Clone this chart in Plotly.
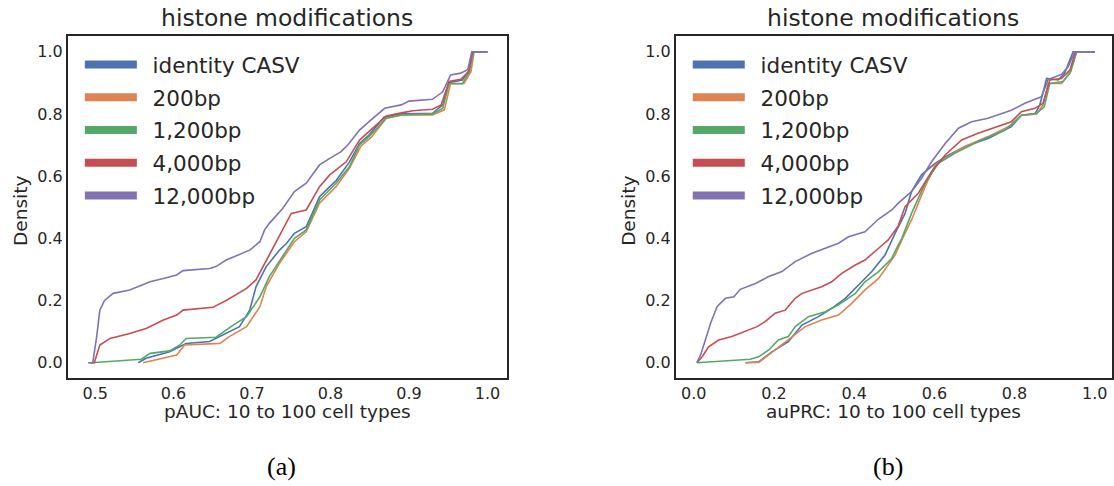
import plotly.graph_objects as go

W, H = 1114, 486

names = ["identity CASV", "200bp", "1,200bp", "4,000bp", "12,000bp"]
colors = ["#4C72B0", "#DD8452", "#55A868", "#C44E52", "#8172B3"]

# ---- panel (a): pAUC ----
a_blue_x = [0.555, 0.565, 0.595, 0.608, 0.616, 0.646, 0.659, 0.684, 0.697, 0.705, 0.718, 0.735, 0.744, 0.754, 0.769, 0.778, 0.786, 0.799, 0.807, 0.824, 0.837, 0.849, 0.868, 0.892, 0.930, 0.943, 0.951, 0.968, 0.977, 0.981, 1.0]
a_blue_y = [0.0, 0.014, 0.035, 0.051, 0.062, 0.068, 0.084, 0.116, 0.169, 0.244, 0.309, 0.362, 0.384, 0.416, 0.437, 0.49, 0.534, 0.566, 0.585, 0.645, 0.705, 0.732, 0.789, 0.800, 0.802, 0.829, 0.900, 0.909, 0.941, 1.0, 1.0]

a_orange_x = [0.561, 0.587, 0.604, 0.614, 0.659, 0.671, 0.693, 0.710, 0.718, 0.735, 0.754, 0.769, 0.786, 0.807, 0.824, 0.839, 0.852, 0.871, 0.892, 0.930, 0.945, 0.953, 0.970, 0.979, 0.983, 1.0]
a_orange_y = [0.0, 0.014, 0.025, 0.057, 0.062, 0.084, 0.116, 0.180, 0.244, 0.320, 0.389, 0.421, 0.513, 0.566, 0.625, 0.697, 0.725, 0.786, 0.797, 0.797, 0.813, 0.898, 0.898, 0.936, 1.0, 1.0]

a_green_x = [0.495, 0.559, 0.570, 0.595, 0.608, 0.616, 0.654, 0.676, 0.693, 0.710, 0.722, 0.739, 0.754, 0.769, 0.786, 0.807, 0.824, 0.837, 0.849, 0.871, 0.892, 0.930, 0.943, 0.951, 0.968, 0.977, 0.982, 1.0]
a_green_y = [0.0, 0.011, 0.030, 0.038, 0.057, 0.078, 0.082, 0.121, 0.148, 0.212, 0.277, 0.341, 0.400, 0.427, 0.523, 0.577, 0.630, 0.700, 0.727, 0.786, 0.797, 0.800, 0.818, 0.897, 0.897, 0.935, 1.0, 1.0]

a_red_x = [0.493, 0.499, 0.506, 0.519, 0.544, 0.565, 0.587, 0.604, 0.612, 0.650, 0.667, 0.693, 0.705, 0.714, 0.726, 0.739, 0.750, 0.769, 0.786, 0.799, 0.820, 0.837, 0.849, 0.871, 0.892, 0.905, 0.930, 0.941, 0.951, 0.966, 0.976, 0.981, 1.0]
a_red_y = [0.0, 0.0, 0.057, 0.078, 0.094, 0.110, 0.137, 0.153, 0.169, 0.178, 0.200, 0.239, 0.266, 0.309, 0.362, 0.427, 0.480, 0.491, 0.566, 0.604, 0.646, 0.716, 0.743, 0.793, 0.804, 0.810, 0.815, 0.829, 0.904, 0.911, 0.936, 1.0, 1.0]

a_purple_x = [0.491, 0.497, 0.502, 0.506, 0.512, 0.523, 0.544, 0.570, 0.587, 0.604, 0.612, 0.646, 0.654, 0.667, 0.697, 0.710, 0.716, 0.722, 0.739, 0.754, 0.769, 0.786, 0.799, 0.813, 0.822, 0.837, 0.849, 0.869, 0.890, 0.900, 0.930, 0.943, 0.953, 0.966, 0.975, 0.980, 1.0]
a_purple_y = [0.0, 0.0, 0.084, 0.169, 0.200, 0.223, 0.234, 0.260, 0.271, 0.282, 0.296, 0.303, 0.309, 0.330, 0.362, 0.389, 0.427, 0.448, 0.496, 0.550, 0.577, 0.636, 0.657, 0.678, 0.700, 0.748, 0.775, 0.818, 0.829, 0.841, 0.847, 0.871, 0.925, 0.931, 0.943, 1.0, 1.0]

# ---- panel (b): auPRC ----
b_blue_x = [0.129, 0.162, 0.195, 0.236, 0.270, 0.311, 0.344, 0.378, 0.411, 0.444, 0.477, 0.502, 0.527, 0.543, 0.568, 0.602, 0.627, 0.676, 0.734, 0.792, 0.817, 0.851, 0.863, 0.880, 0.909, 0.925, 0.946, 1.0]
b_blue_y = [0.0, 0.003, 0.035, 0.068, 0.121, 0.148, 0.175, 0.207, 0.250, 0.293, 0.346, 0.416, 0.480, 0.550, 0.604, 0.641, 0.662, 0.695, 0.721, 0.759, 0.796, 0.800, 0.829, 0.914, 0.909, 0.931, 1.0, 1.0]

b_orange_x = [0.129, 0.162, 0.203, 0.245, 0.278, 0.319, 0.361, 0.394, 0.427, 0.461, 0.502, 0.519, 0.543, 0.577, 0.602, 0.627, 0.676, 0.734, 0.792, 0.817, 0.855, 0.871, 0.884, 0.917, 0.938, 0.954, 1.0]
b_orange_y = [0.0, 0.001, 0.041, 0.084, 0.116, 0.137, 0.153, 0.191, 0.234, 0.271, 0.346, 0.395, 0.459, 0.566, 0.636, 0.657, 0.695, 0.727, 0.764, 0.796, 0.800, 0.829, 0.898, 0.898, 0.931, 1.0, 1.0]

b_green_x = [0.008, 0.141, 0.162, 0.187, 0.211, 0.236, 0.253, 0.286, 0.328, 0.361, 0.403, 0.427, 0.461, 0.494, 0.510, 0.519, 0.543, 0.577, 0.610, 0.651, 0.709, 0.776, 0.817, 0.855, 0.874, 0.888, 0.921, 0.940, 0.955, 1.0]
b_green_y = [0.0, 0.011, 0.019, 0.041, 0.073, 0.084, 0.116, 0.148, 0.164, 0.186, 0.223, 0.260, 0.293, 0.336, 0.379, 0.400, 0.480, 0.577, 0.641, 0.673, 0.711, 0.748, 0.796, 0.802, 0.823, 0.898, 0.904, 0.936, 1.0, 1.0]

b_red_x = [0.008, 0.021, 0.037, 0.062, 0.095, 0.129, 0.158, 0.178, 0.203, 0.228, 0.253, 0.270, 0.319, 0.344, 0.369, 0.403, 0.427, 0.461, 0.485, 0.510, 0.527, 0.560, 0.593, 0.627, 0.668, 0.709, 0.743, 0.792, 0.817, 0.851, 0.871, 0.888, 0.917, 0.938, 0.952, 1.0]
b_red_y = [0.0, 0.019, 0.051, 0.073, 0.084, 0.100, 0.116, 0.132, 0.159, 0.169, 0.207, 0.223, 0.244, 0.260, 0.287, 0.314, 0.330, 0.368, 0.395, 0.440, 0.502, 0.545, 0.614, 0.668, 0.716, 0.738, 0.754, 0.775, 0.807, 0.818, 0.834, 0.909, 0.914, 0.941, 1.0, 1.0]

b_purple_x = [0.008, 0.017, 0.029, 0.042, 0.058, 0.079, 0.100, 0.116, 0.154, 0.187, 0.220, 0.253, 0.295, 0.328, 0.361, 0.386, 0.427, 0.461, 0.494, 0.510, 0.543, 0.568, 0.593, 0.627, 0.660, 0.693, 0.734, 0.792, 0.826, 0.851, 0.867, 0.884, 0.917, 0.934, 0.950, 1.0]
b_purple_y = [0.0, 0.025, 0.073, 0.127, 0.180, 0.207, 0.212, 0.236, 0.255, 0.277, 0.293, 0.325, 0.352, 0.368, 0.384, 0.405, 0.421, 0.462, 0.491, 0.513, 0.550, 0.593, 0.646, 0.705, 0.754, 0.775, 0.786, 0.812, 0.834, 0.847, 0.855, 0.911, 0.927, 0.952, 1.0, 1.0]

a_x_ticks = [0.5, 0.6, 0.7, 0.8, 0.9, 1.0]
b_x_ticks = [0.0, 0.2, 0.4, 0.6, 0.8, 1.0]
y_ticks = [0.0, 0.2, 0.4, 0.6, 0.8, 1.0]

panel_a = [(a_blue_x, a_blue_y), (a_orange_x, a_orange_y), (a_green_x, a_green_y),
           (a_red_x, a_red_y), (a_purple_x, a_purple_y)]
panel_b = [(b_blue_x, b_blue_y), (b_orange_x, b_orange_y), (b_green_x, b_green_y),
           (b_red_x, b_red_y), (b_purple_x, b_purple_y)]

FONT = "DejaVu Sans"
TXT = "#262626"

fig = go.Figure()
for panel, (xa, ya, leg) in zip([panel_a, panel_b], [("x", "y", "legend"), ("x2", "y2", "legend2")]):
    for (xs, ys), nm, c in zip(panel, names, colors):
        fig.add_trace(go.Scatter(x=xs, y=ys, mode="lines", line=dict(color=c, width=1.6),
                                 xaxis=xa, yaxis=ya, showlegend=False, hoverinfo="skip"))
    for nm, c in zip(names, colors):
        fig.add_trace(go.Scatter(x=[None], y=[None], mode="lines", line=dict(color=c, width=8),
                                 name="\u2002" + nm, xaxis=xa, yaxis=ya, legend=leg,
                                 legendgroup=leg + nm, showlegend=True))

ydom = [1 - 378 / H, 1 - 36 / H]
axis_common = dict(showline=True, mirror=True, linecolor=TXT, linewidth=2, showgrid=False,
                   zeroline=False, ticks="", tickfont=dict(family=FONT, size=16, color=TXT))

fig.update_layout(
    width=W, height=H, margin=dict(l=0, r=0, t=0, b=0),
    paper_bgcolor="white", plot_bgcolor="white",
    font=dict(family=FONT, color=TXT),
    xaxis=dict(domain=[68 / W, 508 / W], range=[0.4653, 1.025], tickvals=a_x_ticks,
               ticktext=[f"{v:.1f}" for v in a_x_ticks], anchor="y", **axis_common),
    yaxis=dict(domain=ydom, range=[-0.0492, 1.0505], tickvals=y_ticks,
               ticktext=[f"{v:.1f}" for v in y_ticks], anchor="x", **axis_common),
    xaxis2=dict(domain=[677 / W, 1.0], range=[-0.0448, 1.043], tickvals=b_x_ticks,
                ticktext=[f"{v:.1f}" for v in b_x_ticks], anchor="y2", **axis_common),
    yaxis2=dict(domain=ydom, range=[-0.0492, 1.0505], tickvals=y_ticks,
                ticktext=[f"{v:.1f}" for v in y_ticks], anchor="x2", **axis_common),
    legend=dict(x=80 / W, y=1 - 44 / H, xanchor="left", yanchor="top", bgcolor="rgba(0,0,0,0)",
                font=dict(family=FONT, size=21.5, color=TXT), itemwidth=52, tracegroupgap=1.8),
    legend2=dict(x=689 / W, y=1 - 44 / H, xanchor="left", yanchor="top", bgcolor="rgba(0,0,0,0)",
                 font=dict(family=FONT, size=21.5, color=TXT), itemwidth=52, tracegroupgap=1.8),
)

ann = []
for cx in [288, 895]:
    ann.append(dict(text="histone modifications", x=cx / W, y=1 - 18 / H, xref="paper", yref="paper",
                    showarrow=False, xanchor="center", yanchor="middle",
                    font=dict(family=FONT, size=23.5, color=TXT)))
for cx, t in [(288, "pAUC: 10 to 100 cell types"), (895, "auPRC: 10 to 100 cell types")]:
    ann.append(dict(text=t, x=cx / W, y=1 - 411 / H, xref="paper", yref="paper", showarrow=False,
                    xanchor="center", yanchor="middle", font=dict(family=FONT, size=18.5, color=TXT)))
for cx in [20, 629]:
    ann.append(dict(text="Density", x=cx / W, y=1 - 211 / H, xref="paper", yref="paper", showarrow=False,
                    xanchor="center", yanchor="middle", textangle=-90,
                    font=dict(family=FONT, size=18.5, color=TXT)))
for cx, t in [(282, "(a)"), (890, "(b)")]:
    ann.append(dict(text=t, x=cx / W, y=1 - 466 / H, xref="paper", yref="paper", showarrow=False,
                    xanchor="center", yanchor="middle", font=dict(family="Liberation Serif", size=26, color="black")))
fig.update_layout(annotations=ann)

fig.write_html("out.html")
